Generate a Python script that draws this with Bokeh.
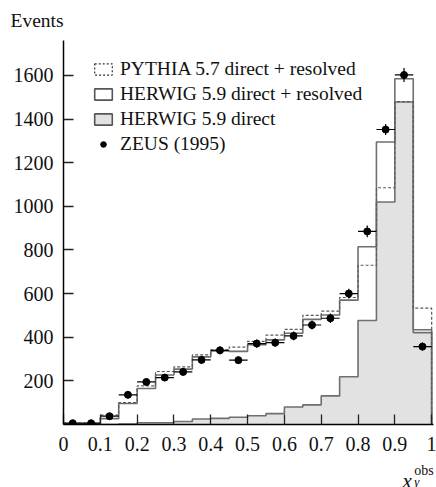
from bokeh.plotting import figure
from bokeh.models import FixedTicker, Label, Legend, LegendItem
from bokeh.embed import file_html
from bokeh.resources import INLINE

# ---- data ----
bin_edges = [0.0, 0.05, 0.1, 0.15, 0.2, 0.25, 0.3, 0.35, 0.4, 0.45, 0.5,
             0.55, 0.6, 0.65, 0.7, 0.75, 0.8, 0.85, 0.9, 0.95, 1.0]
bin_centers = [0.025, 0.075, 0.125, 0.175, 0.225, 0.275, 0.325, 0.375, 0.425, 0.475,
               0.525, 0.575, 0.625, 0.675, 0.725, 0.775, 0.825, 0.875, 0.925, 0.975]

pythia_total = [6, 6, 43, 100, 177, 243, 264, 319, 342, 355,
                381, 410, 436, 500, 520, 582, 730, 1085, 1480, 533]
herwig_total = [2, 2, 27, 96, 165, 227, 254, 310, 337, 335,
                366, 388, 418, 482, 502, 570, 815, 1295, 1585, 434]
herwig_direct = [0, 0, 0, 2, 8, 8, 14, 25, 28, 33,
                 40, 50, 80, 90, 131, 219, 477, 1020, 1478, 421]
zeus_y = [6, 6, 38, 136, 195, 215, 241, 296, 340, 295,
          371, 375, 406, 456, 487, 600, 885, 1352, 1602, 357]
zeus_err = [4, 4, 8, 12, 14, 15, 15, 17, 18, 17,
            19, 19, 20, 21, 22, 22, 27, 25, 32, 19]

x_ticks = [0.0, 0.1, 0.2, 0.3, 0.4, 0.5, 0.6, 0.7, 0.8, 0.9, 1.0]
x_tick_labels = ["0", "0.1", "0.2", "0.3", "0.4", "0.5", "0.6", "0.7", "0.8", "0.9", "1"]
y_ticks = [200, 400, 600, 800, 1000, 1200, 1400, 1600]

legend_labels = ["PYTHIA 5.7 direct + resolved", "HERWIG 5.9 direct + resolved",
                 "HERWIG 5.9 direct", "ZEUS (1995)"]
y_title = "Events"
x_title_main, x_title_sup, x_title_sub = "x", "obs", "γ"

SERIF = "Liberation Serif"
LINE_GRAY = "#6f6f6f"
FILL_GRAY = "#e2e2e2"
TEXT = "#111111"

p = figure(width=436, height=487, output_backend="svg", toolbar_location=None,
           x_range=(0, 1.005), y_range=(0, 1760),
           min_border_left=63, min_border_right=3, min_border_top=40, min_border_bottom=63)
p.outline_line_color = None
p.grid.visible = False
p.background_fill_color = "white"
p.border_fill_color = "white"


def step_xy(vals):
    xs = list(bin_edges) + [bin_edges[-1]]
    ys = list(vals) + [vals[-1], 0]
    return xs, ys


# HERWIG direct: gray filled histogram
p.varea_step(x=bin_edges, y1=[0] * len(bin_edges), y2=list(herwig_direct) + [herwig_direct[-1]],
             step_mode="after", fill_color=FILL_GRAY)
xs, ys = step_xy(herwig_direct)
p.step(xs, ys, mode="after", line_color=LINE_GRAY, line_width=1.6)

# HERWIG direct + resolved
xs, ys = step_xy(herwig_total)
p.step(xs, ys, mode="after", line_color=LINE_GRAY, line_width=1.6)

# PYTHIA direct + resolved (dashed)
xs, ys = step_xy(pythia_total)
p.step(xs, ys, mode="after", line_color="#5a5a5a", line_width=1.2, line_dash="3 2")

# ZEUS data with error bars
p.segment(x0=[c - 0.025 for c in bin_centers], x1=[c + 0.025 for c in bin_centers],
          y0=zeus_y, y1=zeus_y, line_color="black", line_width=1.2)
p.segment(x0=bin_centers, x1=bin_centers,
          y0=[v - e for v, e in zip(zeus_y, zeus_err)],
          y1=[v + e for v, e in zip(zeus_y, zeus_err)], line_color="black", line_width=1.2)
p.scatter(bin_centers, zeus_y, size=7, color="black")

# legend proxies (hidden in the plot, only used for the legend symbols)
lefts, rights = bin_edges[:-1], bin_edges[1:]
proxy_p = p.quad(left=lefts, right=rights, top=pythia_total, bottom=0,
                 fill_color="white", line_color="#333333", line_width=1.2, line_dash="2 2")
proxy_h = p.quad(left=lefts, right=rights, top=herwig_total, bottom=0,
                 fill_color="white", line_color="#555555", line_width=1.6)
proxy_d = p.quad(left=lefts, right=rights, top=herwig_direct, bottom=0,
                 fill_color=FILL_GRAY, line_color="#555555", line_width=1.6)
zeus_proxy = p.scatter(bin_centers, zeus_y, size=6, color="black")
for r in (proxy_p, proxy_h, proxy_d, zeus_proxy):
    r.visible = False

legend = Legend(items=[LegendItem(label=legend_labels[0], renderers=[proxy_p]),
                       LegendItem(label=legend_labels[1], renderers=[proxy_h]),
                       LegendItem(label=legend_labels[2], renderers=[proxy_d]),
                       LegendItem(label=legend_labels[3], renderers=[zeus_proxy])],
                location=(29, 269), orientation="vertical",
                glyph_width=22, glyph_height=14, label_height=20, spacing=3,
                label_standoff=6, padding=0, margin=0,
                border_line_color=None, background_fill_alpha=0,
                label_text_font=SERIF, label_text_font_size="19.5px", label_text_color=TEXT,
                click_policy="none")
p.add_layout(legend, "center")

# axes
for ax in (p.xaxis[0], p.yaxis[0]):
    ax.axis_line_color = "black"
    ax.axis_line_width = 1.5
    ax.major_tick_line_color = "#222222"
    ax.major_tick_line_width = 1.3
    ax.major_tick_in = 10
    ax.major_tick_out = 0
    ax.minor_tick_line_color = None
    ax.major_label_text_font = SERIF
    ax.major_label_text_font_size = "20px"
    ax.major_label_text_color = TEXT

p.xaxis[0].ticker = FixedTicker(ticks=x_ticks)
p.xaxis[0].major_label_overrides = dict(zip(x_ticks, x_tick_labels))
p.xaxis[0].major_label_standoff = 12
p.yaxis[0].ticker = FixedTicker(ticks=y_ticks)
p.yaxis[0].major_label_standoff = 10

# axis titles: placed in the side panels (not clipped), positioned with the plot scales
p.add_layout(Label(x=-0.144, y=1851, text=y_title,
                   text_font=SERIF, text_font_size="19.5px", text_color=TEXT,
                   text_baseline="alphabetic", text_align="left"), "above")
p.add_layout(Label(x=0.953, y=-211, text=x_title_sup,
                   text_font=SERIF, text_font_size="14px", text_color=TEXT,
                   text_baseline="alphabetic", text_align="left"), "above")
p.add_layout(Label(x=0.921, y=-257, text=x_title_main,
                   text_font=SERIF, text_font_style="italic", text_font_size="21px",
                   text_color=TEXT, text_baseline="alphabetic", text_align="left"), "below")
p.add_layout(Label(x=0.953, y=-225, text=x_title_sub,
                   text_font=SERIF, text_font_style="italic", text_font_size="13px",
                   text_color=TEXT, text_baseline="top", text_align="left"), "left")

open("out.html", "w").write(file_html(p, INLINE))
